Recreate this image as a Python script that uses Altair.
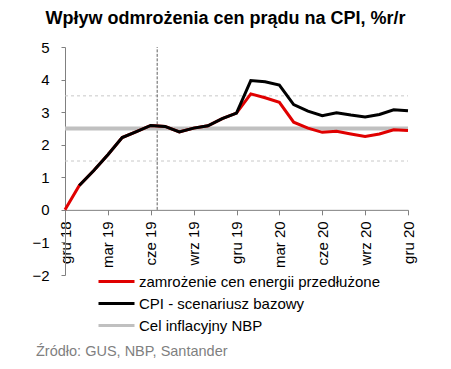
import altair as alt
import pandas as pd

months = list(range(25))
# gru 18 .. gru 20 (index 0..24)
red_vals = [0.0, 0.75, 1.2, 1.69, 2.22, 2.4, 2.59, 2.56, 2.39, 2.51, 2.58, 2.8, 2.97,
            3.56, 3.44, 3.30, 2.69, 2.51, 2.38, 2.41, 2.33, 2.25, 2.33, 2.46, 2.44]
black_vals = [None, 0.75, 1.2, 1.69, 2.22, 2.4, 2.59, 2.56, 2.39, 2.51, 2.58, 2.8, 2.97,
              3.97, 3.93, 3.83, 3.23, 3.03, 2.89, 2.98, 2.91, 2.85, 2.93, 3.07, 3.04]
target_x = [0, 24]
target_y = [2.5, 2.5]
band_levels = [1.5, 3.5]
marker_month = 6.45

tick_pos = [0, 3, 6, 9, 12, 15, 18, 21, 24]
tick_labels = ["gru 18", "mar 19", "cze 19", "wrz 19", "gru 19",
               "mar 20", "cze 20", "wrz 20", "gru 20"]
y_ticks = [-2, -1, 0, 1, 2, 3, 4, 5]

s_red = "zamrożenie cen energii przedłużone"
s_black = "CPI - scenariusz bazowy"
s_grey = "Cel inflacyjny NBP"
series_order = [s_red, s_black, s_grey]
series_colors = ["#e00000", "#000000", "#c0c0c0"]

title = "Wpływ odmrożenia cen prądu na CPI, %r/r"
source = "Źródło: GUS, NBP, Santander"

red_df = pd.DataFrame({"m": months, "v": red_vals, "s": s_red})
black_df = pd.DataFrame({"m": months, "v": black_vals, "s": s_black}).dropna()
grey_df = pd.DataFrame({"m": target_x, "v": target_y, "s": s_grey})
band_df = pd.DataFrame({"y": band_levels, "x1": [0, 0], "x2": [24, 24]})
vline_df = pd.DataFrame({"x": [marker_month], "y1": [0], "y2": [5]})

label_expr = "{" + ",".join(f"'{p}':'{l}'" for p, l in zip(tick_pos, tick_labels)) + "}[datum.value]"

H = 228
W = 343

xscale = alt.Scale(domain=[0, 24], nice=False, zero=False)
yscale = alt.Scale(domain=[-2, 5], nice=False)

color = alt.Color("s:N", scale=alt.Scale(domain=series_order, range=series_colors),
                  sort=series_order,
                  legend=alt.Legend(title=None, orient="none", legendX=52, legendY=225,
                                    symbolType="M-3.5,0H1", symbolSize=256,
                                    symbolStrokeWidth=3, labelFontSize=15,
                                    labelColor="black", rowPadding=4, labelOffset=3,
                                    labelLimit=400))

xaxis = alt.Axis(values=tick_pos, labelExpr=label_expr, offset=-H * 2 / 7,
                 labelAngle=270, labelAlign="right", labelBaseline="middle",
                 labelFontSize=15, labelColor="black", labelPadding=6,
                 tickSize=5, tickColor="#808080", domainColor="#808080",
                 grid=False, title=None, labelOverlap=False)
yaxis = alt.Axis(values=y_ticks, labelFontSize=15, labelOverlap=False,
                 labelColor="black", tickSize=4, tickColor="#808080",
                 domainColor="#808080", grid=False, title=None, labelPadding=12)

bands = alt.Chart(band_df).mark_rule(color="#c8c8c8", strokeDash=[3, 3], strokeWidth=1).encode(
    x=alt.X("x1:Q", scale=xscale, axis=xaxis), x2="x2:Q",
    y=alt.Y("y:Q", scale=yscale, axis=yaxis))

vline = alt.Chart(vline_df).mark_rule(color="#606060", strokeDash=[3, 1.5], strokeWidth=1).encode(
    x=alt.X("x:Q", scale=xscale, axis=xaxis), y=alt.Y("y1:Q", scale=yscale, axis=yaxis), y2="y2:Q")

grey = alt.Chart(grey_df).mark_line(strokeWidth=4).encode(
    x=alt.X("m:Q", scale=xscale, axis=xaxis), y=alt.Y("v:Q", scale=yscale, axis=yaxis), color=color)
red = alt.Chart(red_df).mark_line(strokeWidth=3).encode(
    x=alt.X("m:Q", scale=xscale, axis=xaxis), y=alt.Y("v:Q", scale=yscale, axis=yaxis), color=color)
black = alt.Chart(black_df).mark_line(strokeWidth=3).encode(
    x=alt.X("m:Q", scale=xscale, axis=xaxis), y=alt.Y("v:Q", scale=yscale, axis=yaxis), color=color)

src = alt.Chart(pd.DataFrame({"t": [source]})).mark_text(
    align="left", baseline="middle", fontSize=14.5, color="#7f7f7f").encode(
    text="t:N", x=alt.value(-29), y=alt.value(305))

chart = alt.layer(bands, vline, grey, red, black, src).properties(
    width=W, height=H,
    title=alt.TitleParams(title, fontSize=18, fontWeight="bold", anchor="middle",
                          dx=-11, offset=12, color="black"),
    autosize=alt.AutoSizeParams(type="none"),
    padding={"left": 57, "top": 39, "right": 35, "bottom": 86},
).configure(font="Liberation Sans").configure_view(stroke=None)

chart.save("out.html", embed_options={"renderer": "svg", "actions": False})
